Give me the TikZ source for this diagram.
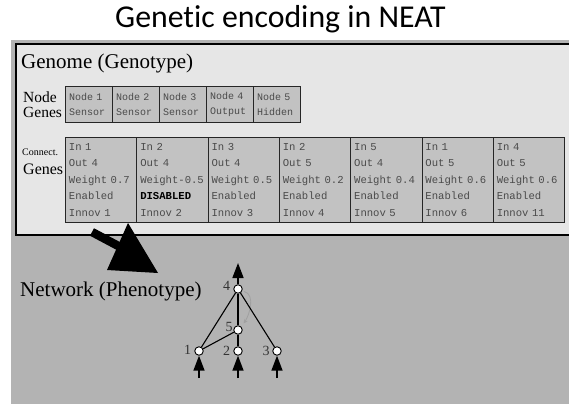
\documentclass[tikz,border=0pt]{standalone}
\usepackage{fontspec}
\setmainfont{Liberation Serif}
\newfontfamily\titlefont[Ligatures={NoCommon,NoRequired}]{Carlito}
\newfontfamily\genefont{Liberation Mono}
\usetikzlibrary{arrows.meta}

\definecolor{bggray}{HTML}{B3B3B3}
\definecolor{panelgray}{HTML}{E6E6E6}
\definecolor{cellgray}{HTML}{C2C2C2}
\definecolor{genetext}{HTML}{4A4A4A}
\definecolor{arcgray}{HTML}{A0A0A0}

\tikzset{
  nodecell/.style={draw=black!85, line width=0.9pt, fill=cellgray, anchor=north west,
    minimum width=47pt, minimum height=36pt, text width=40pt, inner xsep=3.5pt, inner ysep=0pt,
    align=left, text=genetext, font=\genefont\fontsize{10}{15}\selectfont},
  conncell/.style={draw=black!85, line width=0.9pt, fill=cellgray, anchor=north west,
    minimum width=71.3pt, minimum height=85pt, text width=64.3pt, inner xsep=3.5pt, inner ysep=0pt,
    align=left, text=genetext, font=\genefont\fontsize{10.6}{16.5}\selectfont},
  sidelabel/.style={anchor=base west, inner sep=0pt},
  neuron/.style={circle, draw, fill=white, line width=0.9pt, minimum size=8.5pt, inner sep=0pt},
  numlabel/.style={anchor=east, inner sep=0pt, font=\fontsize{14}{14}\selectfont, text=black!80},
  edge/.style={line width=1.1pt},
  ioarrow/.style={line width=1.6pt, -{Triangle[width=11pt,length=15pt]}},
  recur/.style={draw=arcgray, line width=0.8pt, -{Stealth[length=4pt,width=4pt]}, shorten >=4pt, shorten <=2pt},
}

\begin{document}
\begin{tikzpicture}[x=1pt, y=-1pt]
\useasboundingbox (0,0) rectangle (569,404);

% backgrounds
\fill[bggray] (11,40) rectangle (569,404);
\fill[panelgray] (16,44) rectangle (569,235);
\draw[line width=1.3pt] (569,44) -- (16,44) -- (16,235) -- (569,235);

% title
\node[anchor=base west, inner sep=0pt, font=\titlefont\fontsize{31.8}{36}\selectfont] (title) at (115,28) {Genetic encoding in NEAT};

% genome heading
\node[sidelabel, font=\fontsize{21}{24}\selectfont] (genome) at (21,68) {Genome (Genotype)};

% node genes
\node[sidelabel, font=\fontsize{15.5}{16}\selectfont] (nodelbl) at (23,102) {Node};
\node[sidelabel, font=\fontsize{15.5}{16}\selectfont] (nodegenes) at (23,117) {Genes};
\node[nodecell] (ng1) at (65.2,86) {Node 1\\Sensor};
\node[nodecell] (ng2) at (112.2,86) {Node 2\\Sensor};
\node[nodecell] (ng3) at (159.2,86) {Node 3\\Sensor};
\node[nodecell] (ng4) at (206.2,86) {Node 4\\Output};
\node[nodecell] (ng5) at (253.2,86) {Node 5\\Hidden};

% connection genes
\node[sidelabel, font=\fontsize{10}{11}\selectfont] (connlbl) at (22,155.5) {Connect.};
\node[sidelabel, font=\fontsize{16}{17}\selectfont] (conngenes) at (23,174.5) {Genes};
\node[conncell] (cg1) at (65,137) {In 1\\Out 4\\Weight 0.7\\Enabled\\Innov 1};
\node[conncell] (cg2) at (136.3,137) {In 2\\Out 4\\Weight-0.5\\{\color{black}\bfseries DISABLED}\\Innov 2};
\node[conncell] (cg3) at (207.6,137) {In 3\\Out 4\\Weight 0.5\\Enabled\\Innov 3};
\node[conncell] (cg4) at (278.9,137) {In 2\\Out 5\\Weight 0.2\\Enabled\\Innov 4};
\node[conncell] (cg5) at (350.2,137) {In 5\\Out 4\\Weight 0.4\\Enabled\\Innov 5};
\node[conncell] (cg6) at (421.5,137) {In 1\\Out 5\\Weight 0.6\\Enabled\\Innov 6};
\node[conncell] (cg7) at (492.8,137) {In 4\\Out 5\\Weight 0.6\\Enabled\\Innov 11};

% big arrow from genome to network
\coordinate (arrtail) at (92,232);
\coordinate (arrjoin) at (124,249);
\coordinate (headtop) at (128,223);
\coordinate (headleft) at (107,270);
\coordinate (headright) at (158,273);
\draw[line width=8.5pt] (arrtail) -- (arrjoin);
\fill (headtop) -- (headleft) -- (headright) -- cycle;

% network heading
\node[sidelabel, font=\fontsize{21}{24}\selectfont] (network) at (20,296) {Network (Phenotype)};

% network
\node[neuron] (n4) at (238,289) {};
\node[neuron] (n5) at (238,330) {};
\node[neuron] (n1) at (199,351) {};
\node[neuron] (n2) at (238,351) {};
\node[neuron] (n3) at (277,351) {};

\draw[recur] (n4.-25) to[out=-15, in=55] (n5.45);

\draw[edge] (n4) -- (n1);
\draw[edge] (n4) -- (n5);
\draw[edge] (n4) -- (n3);
\draw[edge] (n5) -- (n1);
\draw[edge] (n5) -- (n2);

\node[numlabel] (l4) at ([xshift=-3pt,yshift=3pt]n4.west) {4};
\node[numlabel] (l5) at ([xshift=-0.5pt,yshift=3pt]n5.west) {5};
\node[numlabel] (l1) at ([xshift=-3pt,yshift=1pt]n1.west) {1};
\node[numlabel] (l2) at ([xshift=-3pt]n2.west) {2};
\node[numlabel] (l3) at ([xshift=-2.5pt]n3.west) {3};

\coordinate (out4) at (238,263);
\coordinate (in1) at (199,378);
\coordinate (in2) at (238,378);
\coordinate (in3) at (277,378);
\draw[ioarrow] (n4.north) -- (out4);
\draw[ioarrow] (in1) -- (n1.south);
\draw[ioarrow] (in2) -- (n2.south);
\draw[ioarrow] (in3) -- (n3.south);
\end{tikzpicture}
\end{document}
